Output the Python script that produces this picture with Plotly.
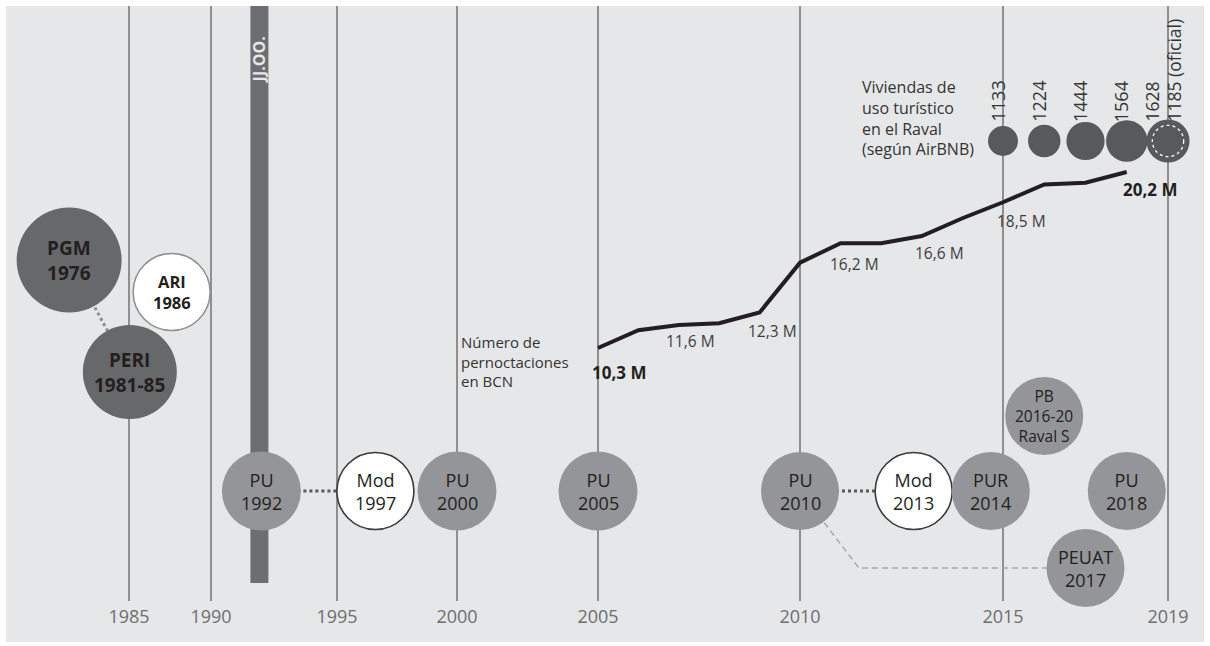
import numpy as np
import plotly.graph_objects as go

# ---------------- data ----------------
TICK_YEARS = [1985, 1990, 1995, 2000, 2005, 2010, 2015, 2019]

LINE_YEARS = [2005, 2006, 2007, 2008, 2009, 2010, 2011, 2012, 2013, 2014, 2015, 2016, 2017, 2018]
PERNOCTACIONES_M = [10.3, 11.3, 11.6, 11.7, 12.3, 15.1, 16.2, 16.2, 16.6, 17.6, 18.5, 19.5, 19.6, 20.2]
LABELLED_YEARS = [2005, 2007, 2009, 2011, 2013, 2015, 2018]
BOLD_LABEL_YEARS = [2005, 2018]

AIRBNB_YEARS = [2015, 2016, 2017, 2018, 2019]
AIRBNB_VIVIENDAS = [1133, 1224, 1444, 1564, 1628]
OFICIAL_YEAR = 2019
OFICIAL_VIVIENDAS = 1185

PLAN_NAMES = ["PGM", "PERI", "ARI", "PU", "Mod", "PU", "PU", "PU", "Mod", "PUR", "PU", "PEUAT", "PB"]
PLAN_DATES = ["1976", "1981-85", "1986", "1992", "1997", "2000", "2005", "2010", "2013", "2014", "2018", "2017", "2016-20"]
PLAN_EXTRA = ["", "", "", "", "", "", "", "", "", "", "", "", "Raval S"]
PLAN_KIND = ["previo", "previo", "area", "pu", "mod", "pu", "pu", "pu", "mod", "pu", "pu", "pu", "pb"]

OLYMPICS_YEAR = 1992
OLYMPICS_LABEL = "JJ.OO."

# ---------------- layout (schematic positions, not data) ----------------
PLAN_X_YEAR = [1981.35, 1985.05, 1987.6, 1992, 1996.6, 2000, 2005, 2010, 2012.8, 2014.7, 2018, 2017, 2016]
PLAN_ROW = [260, 372, 292, 491, 491, 491, 491, 491, 491, 491, 491, 568, 416]
PLAN_DIAM = [105, 94, 77, 79, 77, 79, 79, 78, 77, 78, 78, 78, 78]
AIRBNB_ROW = 141
AIRBNB_LABEL_ROW = 124
CORNER_YEAR = 2011.45

# non-uniform timeline of the original chart (year -> horizontal position)
SCALE_YEARS = TICK_YEARS
SCALE_POS = [129, 211, 337, 457, 598, 800, 1003, 1168]


def T(year):
    y = np.asarray(year, dtype=float)
    out = np.interp(y, SCALE_YEARS, SCALE_POS)
    lo = (SCALE_POS[1] - SCALE_POS[0]) / (SCALE_YEARS[1] - SCALE_YEARS[0])
    hi = (SCALE_POS[-1] - SCALE_POS[-2]) / (SCALE_YEARS[-1] - SCALE_YEARS[-2])
    out = np.where(y < SCALE_YEARS[0], SCALE_POS[0] + (y - SCALE_YEARS[0]) * lo, out)
    out = np.where(y > SCALE_YEARS[-1], SCALE_POS[-1] + (y - SCALE_YEARS[-1]) * hi, out)
    return out.tolist()


FONT = "Open Sans"
DARK = "#231f20"
STYLE = {
    "previo": dict(fill="#67686a", line="#67686a", lw=0, size=19, weight=700),
    "area": dict(fill="#ffffff", line="#8e8f91", lw=1.5, size=16.5, weight=700),
    "pu": dict(fill="#939598", line="#939598", lw=0, size=18, weight=400),
    "mod": dict(fill="#ffffff", line="#3a3a3a", lw=1.6, size=18, weight=400),
    "pb": dict(fill="#939598", line="#939598", lw=0, size=15.5, weight=400),
}

fig = go.Figure()

px = T(PLAN_X_YEAR)
idx = {n + " " + d: i for i, (n, d) in enumerate(zip(PLAN_NAMES, PLAN_DATES))}


def connect(a, b, color, width, dash):
    ia, ib = idx[a], idx[b]
    fig.add_trace(go.Scatter(x=[px[ia], px[ib]], y=[PLAN_ROW[ia], PLAN_ROW[ib]], mode="lines",
                             line=dict(color=color, width=width, dash=dash), hoverinfo="skip"))


connect("PGM 1976", "PERI 1981-85", "#8e8f91", 3, "dot")
connect("PU 1992", "Mod 1997", "#58595b", 3, "dot")
connect("PU 2010", "Mod 2013", "#58595b", 3, "dot")
i10, i17 = idx["PU 2010"], idx["PEUAT 2017"]
fig.add_trace(go.Scatter(x=[px[i10], T(CORNER_YEAR), px[i17]], y=[PLAN_ROW[i10], PLAN_ROW[i17], PLAN_ROW[i17]],
                         mode="lines", line=dict(color="#a7a9ac", width=1.5, dash="6px,4px"), hoverinfo="skip"))

# plan bubbles
fig.add_trace(go.Scatter(
    x=px, y=PLAN_ROW, mode="markers", hoverinfo="skip", cliponaxis=False,
    marker=dict(size=PLAN_DIAM, sizemode="diameter", opacity=1,
                color=[STYLE[k]["fill"] for k in PLAN_KIND],
                line=dict(color=[STYLE[k]["line"] for k in PLAN_KIND],
                          width=[STYLE[k]["lw"] for k in PLAN_KIND]))))

annotations = []
for i, k in enumerate(PLAN_KIND):
    st = STYLE[k]
    lines = [PLAN_NAMES[i], PLAN_DATES[i]] + ([PLAN_EXTRA[i]] if PLAN_EXTRA[i] else [])
    annotations.append(dict(x=px[i], y=PLAN_ROW[i], xref="x", yref="y", text="<br>".join(lines),
                            showarrow=False, align="center", yanchor="middle",
                            font=dict(family=FONT, size=st["size"], color=DARK, weight=st["weight"])))

# line: pernoctaciones
fig.add_trace(go.Scatter(x=T(LINE_YEARS), y=PERNOCTACIONES_M, yaxis="y2", mode="lines",
                         line=dict(color=DARK, width=4), hoverinfo="skip"))
LABEL_SHIFT = {2005: (21, 24), 2007: (12, 16), 2009: (13, 19), 2011: (14, 21),
               2013: (18, 17), 2015: (18, 19), 2018: (23, 17)}
for yr in LABELLED_YEARS:
    v = PERNOCTACIONES_M[LINE_YEARS.index(yr)]
    txt = f"{v:.1f}".replace(".", ",") + " M"
    bold = yr in BOLD_LABEL_YEARS
    dx, dy = LABEL_SHIFT[yr]
    annotations.append(dict(x=T(yr), y=v, xref="x", yref="y2", text=txt, showarrow=False,
                            xshift=dx, yshift=-dy,
                            font=dict(family=FONT, size=17 if bold else 15.5,
                                      color=DARK if bold else "#3d3d3d", weight=700 if bold else 400)))
annotations.append(dict(x=T(2005), y=PERNOCTACIONES_M[0], xref="x", yref="y2",
                        text="Número de<br>pernoctaciones<br>en BCN", showarrow=False,
                        xanchor="left", yanchor="middle", align="left", xshift=-139, yshift=-13,
                        font=dict(family=FONT, size=15, color="#333333")))

# Airbnb bubbles
sizeref = AIRBNB_VIVIENDAS[0] / 30.0
fig.add_trace(go.Scatter(x=T(AIRBNB_YEARS), y=[AIRBNB_ROW] * len(AIRBNB_YEARS), mode="markers",
                         hoverinfo="skip",
                         marker=dict(size=[v / sizeref for v in AIRBNB_VIVIENDAS], sizemode="diameter",
                                     color="#58595b", opacity=1, line=dict(width=0))))
r_of = OFICIAL_VIVIENDAS / sizeref / 2
cx = T(OFICIAL_YEAR)
shapes = [
    dict(type="rect", xref="paper", yref="paper", x0=0, x1=1, y0=-41 / 595, y1=1,
         fillcolor="#e6e7e8", line=dict(width=0), layer="below"),
    dict(type="rect", xref="x", yref="y", x0=T(OLYMPICS_YEAR) - 11, x1=T(OLYMPICS_YEAR) + 7,
         y0=6, y1=583, fillcolor="#6d6e71", line=dict(width=0), layer="below"),
    dict(type="circle", xref="x", yref="y", x0=cx - r_of, x1=cx + r_of,
         y0=AIRBNB_ROW - r_of, y1=AIRBNB_ROW + r_of,
         line=dict(color="#ffffff", width=1.3, dash="dot"), layer="above"),
]
for yr, v in zip(AIRBNB_YEARS[:-1], AIRBNB_VIVIENDAS[:-1]):
    annotations.append(dict(x=T(yr), y=AIRBNB_LABEL_ROW, xref="x", yref="y", text=str(v), showarrow=False,
                            textangle=-90, yanchor="bottom", xshift=-6,
                            font=dict(family=FONT, size=18, color="#333333")))
annotations.append(dict(x=T(OFICIAL_YEAR), y=AIRBNB_LABEL_ROW, xref="x", yref="y",
                        text=f"{AIRBNB_VIVIENDAS[-1]}<br>{OFICIAL_VIVIENDAS} (oficial)", showarrow=False,
                        textangle=-90, yanchor="bottom", align="left", xshift=-5,
                        font=dict(family=FONT, size=17.5, color="#333333")))
annotations.append(dict(x=T(AIRBNB_YEARS[0]), y=118, xref="x", yref="y",
                        text="Viviendas de<br>uso turístico<br>en el Raval<br>(según AirBNB)",
                        showarrow=False, xanchor="left", yanchor="middle", align="left", xshift=-143,
                        font=dict(family=FONT, size=16, color="#333333")))
annotations.append(dict(x=T(OLYMPICS_YEAR) - 2, y=60, xref="x", yref="y", text=OLYMPICS_LABEL,
                        showarrow=False, textangle=-90,
                        font=dict(family=FONT, size=16, color="#e6e7e8", weight=700)))

fig.update_layout(
    width=1210, height=646, margin=dict(l=6, r=6, t=6, b=45, pad=0),
    paper_bgcolor="white", plot_bgcolor="rgba(0,0,0,0)", showlegend=False,
    xaxis=dict(range=[6, 1204], tickvals=T(TICK_YEARS), ticktext=[str(y) for y in TICK_YEARS],
               showgrid=True, gridcolor="#8e8f91", gridwidth=1.6, zeroline=False, showline=False,
               ticks="", ticklabelstandoff=3,
               tickfont=dict(family=FONT, size=18, color="#6d6e71")),
    yaxis=dict(range=[601, 6], visible=False, showgrid=False),
    yaxis2=dict(range=[-3.93, 29.54], overlaying="y", visible=False, showgrid=False),
    shapes=shapes, annotations=annotations,
)

fig.write_html("out.html", post_script="document.body.style.margin='0';",
               config={"displayModeBar": False})
